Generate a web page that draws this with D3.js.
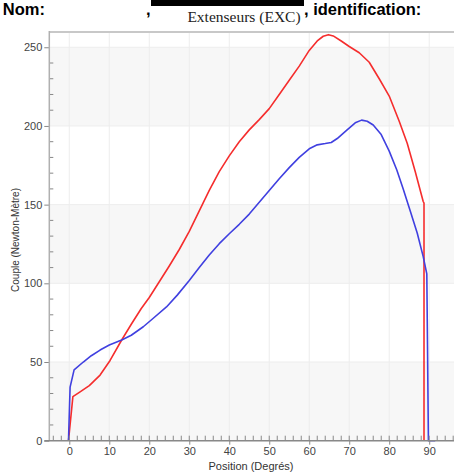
<!DOCTYPE html>
<html>
<head>
<meta charset="utf-8">
<script src="https://cdn.jsdelivr.net/npm/d3@7"></script>
<style>
  body { margin: 0; background: #fff; overflow: hidden; }
  svg { display: block; }
  .tick text { fill: #444; font-family: "Liberation Sans", Arial, sans-serif; font-size: 11px; }
</style>
</head>
<body>
<div id="chart"></div>
<script>
// data: [position (deg), couple (N-m)]
const redCurve = [
  [-0.2, 0], [0.9, 28], [2.7, 31], [5, 35], [7.7, 41.7], [10.2, 51], [13.1, 64],
  [15.5, 74], [18, 84], [20, 91], [22.5, 101], [25, 111], [27.5, 121.5],
  [30, 133], [32.5, 146], [35, 159], [37.5, 171], [40, 181], [42.5, 190],
  [45, 197.5], [47.5, 204], [50, 211], [52.5, 220], [55, 229], [57.5, 238],
  [60, 248], [62, 254], [63.5, 257], [64.8, 258], [66, 257.2], [68, 254],
  [70, 250.5], [72.5, 246.5], [75, 240.5], [77.5, 230], [80, 219], [82.5, 203],
  [84.5, 189], [86.5, 171], [88.5, 152], [88.7, 151], [88.7, 0]
];
const blueCurve = [
  [-0.2, 0], [0.2, 34], [1.2, 45], [3.5, 50], [5.5, 54], [7.7, 57.6],
  [10, 60.8], [13.1, 64], [15.5, 67], [18.5, 72.4], [21, 77.8], [24.3, 85],
  [27, 92.5], [30, 101.8], [32.5, 110], [35, 118], [37.5, 125.2], [40, 131.5],
  [42.5, 137.5], [45, 144], [47.5, 151.5], [50, 159], [52.5, 166.5],
  [55, 173.5], [57.5, 180], [60, 185.5], [62, 188], [64, 188.8], [65.5, 189.5],
  [67, 192], [69.4, 197.4], [71.5, 202], [73.1, 203.7], [74.5, 203],
  [76, 200.6], [78, 194.5], [80, 184], [81.9, 172], [83.5, 160], [85.2, 146.4],
  [87, 132], [88.5, 117], [89.4, 106], [89.8, 0], [91.5, 0]
];
const xTicks = [0, 10, 20, 30, 40, 50, 60, 70, 80, 90];
const yTicks = [0, 50, 100, 150, 200, 250];
const bands = [[0, 50], [100, 150], [200, 250]];

const chartTitle = 'Extenseurs (EXC)';
const xLabel = 'Position (Degrés)';
const yLabel = 'Couple (Newton-Mètre)';

const width = 454, height = 473;
const plot = { left: 49.3, right: 458, top: 32, bottom: 440.7 };

const xScale = d3.scaleLinear().domain([-5, 97.2]).range([plot.left, plot.right]);
const yScale = d3.scaleLinear().domain([0, 259.7]).range([plot.bottom, plot.top]);

const $svg = d3.select('#chart').append('svg')
  .attr('width', width)
  .attr('height', height);

// header line at the top of the page
const headerFont = '"Liberation Sans", Arial, sans-serif';
$svg.append('text')
  .attr('x', 45).attr('y', 15)
  .attr('text-anchor', 'end')
  .style('font-family', headerFont)
  .style('font-weight', 'bold')
  .style('font-size', '16.5px')
  .text('Nom:');
$svg.append('text')
  .attr('x', 146).attr('y', 15)
  .style('font-family', headerFont)
  .style('font-weight', 'bold')
  .style('font-size', '16.5px')
  .text(',');
$svg.append('rect')
  .attr('x', 151).attr('y', 0)
  .attr('width', 153).attr('height', 6)
  .style('fill', '#000');
$svg.append('text')
  .attr('x', 304).attr('y', 15)
  .style('font-family', headerFont)
  .style('font-weight', 'bold')
  .style('font-size', '16.5px')
  .text(', identification:');

$svg.append('text')
  .attr('x', 244).attr('y', 22)
  .attr('text-anchor', 'middle')
  .style('font-family', '"Liberation Serif", "Times New Roman", serif')
  .style('font-size', '15.5px')
  .style('fill', '#222')
  .text(chartTitle);

// plot background
$svg.append('rect')
  .attr('x', plot.left).attr('y', plot.top)
  .attr('width', plot.right - plot.left).attr('height', plot.bottom - plot.top)
  .style('fill', '#fff');

$svg.selectAll('rect.band')
  .data(bands)
  .enter()
  .append('rect')
  .classed('band', true)
  .attr('x', plot.left)
  .attr('width', plot.right - plot.left)
  .attr('y', d => yScale(d[1]))
  .attr('height', d => yScale(d[0]) - yScale(d[1]))
  .style('fill', '#f7f7f7');

// grid
$svg.selectAll('line.vgrid')
  .data(xTicks)
  .enter()
  .append('line')
  .attr('x1', d => xScale(d)).attr('x2', d => xScale(d))
  .attr('y1', plot.top).attr('y2', plot.bottom)
  .style('stroke', '#ededed');

$svg.selectAll('line.hgrid')
  .data(yTicks)
  .enter()
  .append('line')
  .attr('x1', plot.left).attr('x2', plot.right)
  .attr('y1', d => yScale(d)).attr('y2', d => yScale(d))
  .style('stroke', '#ededed');

// top border
$svg.append('line')
  .attr('x1', plot.left).attr('x2', plot.right)
  .attr('y1', plot.top).attr('y2', plot.top)
  .style('stroke', '#c8c8c8')
  .style('stroke-width', 2);

// curves
const line = d3.line()
  .x(d => xScale(d[0]))
  .y(d => yScale(d[1]));

$svg.append('path')
  .attr('d', line(redCurve))
  .style('fill', 'none')
  .style('stroke', '#f52d2d')
  .style('stroke-width', 1.6)
  .style('stroke-linejoin', 'round');

$svg.append('path')
  .attr('d', line(blueCurve))
  .style('fill', 'none')
  .style('stroke', '#4040e0')
  .style('stroke-width', 1.6)
  .style('stroke-linejoin', 'round');

// axes
const xMinor = d3.range(-4, 97, 2).filter(d => d % 10 !== 0);
const yMinor = d3.range(10, 260, 10).filter(d => d % 50 !== 0);

const xAxis = d3.axisBottom(xScale)
  .tickValues(xTicks)
  .tickSize(4)
  .tickPadding(3)
  .tickFormat(d3.format('d'));

const yAxis = d3.axisLeft(yScale)
  .tickValues(yTicks)
  .tickSize(5)
  .tickPadding(2)
  .tickFormat(d3.format('d'));

const $xAxisGroup = $svg.append('g')
  .attr('transform', `translate(0, ${plot.bottom})`)
  .call(xAxis);

const $yAxisGroup = $svg.append('g')
  .attr('transform', `translate(${plot.left}, 0)`)
  .call(yAxis);

[$xAxisGroup, $yAxisGroup].forEach(g => {
  g.select('.domain').remove();
  g.selectAll('.tick line').style('stroke', '#888');
});

// minor ticks (inside)
$svg.selectAll('line.xminor')
  .data(xMinor.concat(xTicks))
  .enter()
  .append('line')
  .attr('x1', d => xScale(d)).attr('x2', d => xScale(d))
  .attr('y1', plot.bottom).attr('y2', plot.bottom - 5)
  .style('stroke', '#888');

$svg.selectAll('line.yminor')
  .data(yMinor)
  .enter()
  .append('line')
  .attr('x1', plot.left).attr('x2', plot.left + 4)
  .attr('y1', d => yScale(d)).attr('y2', d => yScale(d))
  .style('stroke', '#888');

// axis lines
$svg.append('line')
  .attr('x1', plot.left).attr('x2', plot.left)
  .attr('y1', plot.top - 1).attr('y2', plot.bottom)
  .style('stroke', '#b0b0b0')
  .style('stroke-width', 1.5);

$svg.append('line')
  .attr('x1', plot.left - 5).attr('x2', plot.right)
  .attr('y1', plot.bottom).attr('y2', plot.bottom)
  .style('stroke', '#888')
  .style('stroke-width', 1.5);

// axis labels
$svg.append('text')
  .attr('x', 251).attr('y', 470)
  .attr('text-anchor', 'middle')
  .style('font-family', '"Liberation Sans", Arial, sans-serif')
  .style('font-size', '11px')
  .style('fill', '#333')
  .text(xLabel);

$svg.append('text')
  .attr('transform', 'translate(19, 240) rotate(-90)')
  .attr('text-anchor', 'middle')
  .style('font-family', '"Liberation Sans", Arial, sans-serif')
  .style('font-size', '10px')
  .style('fill', '#333')
  .text(yLabel);
</script>
</body>
</html>
